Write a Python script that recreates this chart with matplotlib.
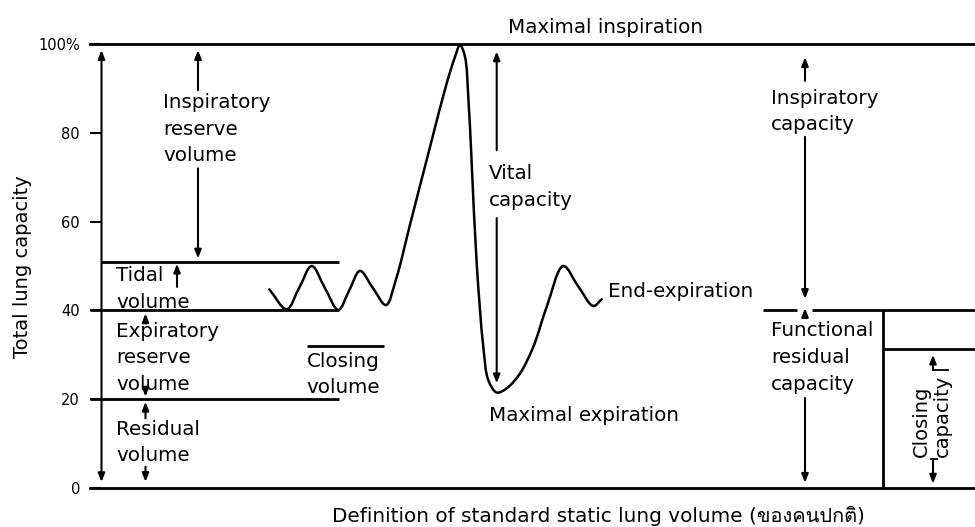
import math
import matplotlib
matplotlib.use("Agg")
import matplotlib.pyplot as plt
from matplotlib import font_manager, ft2font
from matplotlib.path import Path
from matplotlib.patches import PathPatch

# ---------------- data ----------------
y_ticks = [0, 20, 40, 60, 80, 100]
y_tick_labels = ["0", "20", "40", "60", "80", "100%"]

# lung volume levels (% of total lung capacity)
tlc = 100
end_inspiration = 50.8
frc = 40
rv = 20
closing_volume_level = 32.0
closing_capacity_level = 31.4

# spirogram trace (time position, % TLC)
trace_x = [269.3, 286.7, 299.2, 311.7, 325.0, 338.3, 349.2, 360.0, 373.0, 386.0,
           396.0, 410.0, 430.0, 446.7, 455.0, 460.0, 465.0, 468.3, 471.7, 476.7,
           483.3, 488.3, 496.7, 506.7, 520.0, 533.3, 546.7, 563.3, 578.0, 593.3,
           601.7]
trace_y = [44.75, 40.25, 45.1, 50.0, 45.0, 40.1, 44.5, 48.9, 45.0, 41.2,
           47.0, 59.3, 76.8, 91.15, 97.1, 99.8, 97.1, 88.1, 73.1, 50.6,
           31.8, 24.3, 21.5, 22.45, 25.8, 31.8, 40.8, 50.0, 45.5, 41.0,
           42.5]

x_label = "Definition of standard static lung volume (ของคนปกติ)"
y_label = "Total lung capacity"

# ---------------- fonts ----------------
thai_font = None
seen = set()
for f in font_manager.fontManager.ttflist:
    if f.fname in seen:
        continue
    seen.add(f.fname)
    try:
        cm = ft2font.FT2Font(f.fname).get_charmap()
    except Exception:
        continue
    if 0x0E02 in cm and 0x0E04 in cm and 0x0E34 in cm:
        thai_font = f.name
        break
families = ["DejaVu Sans"] + ([thai_font] if thai_font else [])
plt.rcParams["font.family"] = families

FS = 14.3

# ---------------- figure ----------------
W, H = 975, 527
fig = plt.figure(figsize=(W / 100, H / 100), dpi=100)
ax = fig.add_axes([90 / W, (H - 488) / H, 885 / W, 444 / H])
ax.set_xlim(90, 975)
ax.set_ylim(0, 100)
for s in ("left", "right"):
    ax.spines[s].set_visible(False)
for s in ("top", "bottom"):
    ax.spines[s].set_linewidth(2)
ax.set_xticks([])
ax.set_yticks(y_ticks)
ax.set_yticklabels(y_tick_labels)
ax.tick_params(axis="y", direction="in", length=7.9, width=1.5, pad=7.2,
               labelsize=10.5)


def hline(x0, x1, y):
    ax.plot([x0, x1], [y, y], color="black", lw=2, solid_capstyle="butt",
            clip_on=False)


def vline(x, y0, y1):
    ax.plot([x, x], [y0, y1], color="black", lw=2, solid_capstyle="butt",
            clip_on=False)


def arrow(x, tail, tip, both=False):
    style = "<|-|>" if both else "-|>"
    ax.annotate("", xy=(x, tip), xytext=(x, tail),
                arrowprops=dict(arrowstyle=style + ",head_length=0.5,head_width=0.2",
                                lw=1.5, color="black", shrinkA=0, shrinkB=0,
                                mutation_scale=10))


def block(x, y0, lines, dy=6.0, **kw):
    for i, s in enumerate(lines):
        ax.text(x, y0 - i * dy, s, ha="left", va="baseline", fontsize=FS, **kw)


# horizontal level lines
hline(101, 339, end_inspiration)
hline(90, 339, frc)
hline(90, 339, rv)
hline(307, 384, closing_volume_level)
hline(763, 797, frc)
hline(812, 975, frc)
hline(882.7, 975, closing_capacity_level)
vline(882.7, frc, 0)

# spirogram trace: centripetal Catmull-Rom path through the read points
SX, SY = 1.0, 4.44
P = [(x * SX, y * SY) for x, y in zip(trace_x, trace_y)]
n = len(P)


def dist(a, b):
    return max(math.hypot(b[0] - a[0], b[1] - a[1]) ** 0.5, 1e-6)


verts = [P[0]]
codes = [Path.MOVETO]
for i in range(n - 1):
    p1, p2 = P[i], P[i + 1]
    p0 = P[i - 1] if i > 0 else (2 * p1[0] - p2[0], 2 * p1[1] - p2[1])
    p3 = P[i + 2] if i + 2 < n else (2 * p2[0] - p1[0], 2 * p2[1] - p1[1])
    d01, d12, d23 = dist(p0, p1), dist(p1, p2), dist(p2, p3)
    m1 = [(p1[k] - p0[k]) / d01 - (p2[k] - p0[k]) / (d01 + d12)
          + (p2[k] - p1[k]) / d12 for k in (0, 1)]
    m2 = [(p2[k] - p1[k]) / d12 - (p3[k] - p1[k]) / (d12 + d23)
          + (p3[k] - p2[k]) / d23 for k in (0, 1)]
    c1 = (p1[0] + m1[0] * d12 / 3, p1[1] + m1[1] * d12 / 3)
    c2 = (p2[0] - m2[0] * d12 / 3, p2[1] - m2[1] * d12 / 3)
    verts += [c1, c2, p2]
    codes += [Path.CURVE4] * 3
verts = [(vx / SX, vy / SY) for vx, vy in verts]
ax.add_patch(PathPatch(Path(verts, codes), fill=False, lw=1.8,
                       edgecolor="black", capstyle="round", joinstyle="round",
                       clip_on=False))

# arrows
arrow(101.5, 1.35, 98.6, both=True)          # total lung capacity
arrow(198, 89.6, 98.6)                        # IRV up
arrow(198, 72.0, 51.7)                        # IRV down
arrow(177, 45.3, 50.5)                        # tidal up
arrow(145.5, 37.4, 39.3)                      # ERV up
arrow(145.5, 22.8, 20.6)                      # ERV down
arrow(145.5, 15.7, 19.4)                      # RV up
arrow(145.5, 4.8, 1.4)                        # RV down
arrow(496.7, 76.1, 98.3)                      # VC up
arrow(496.7, 60.8, 23.6)                      # VC down
arrow(805, 91.7, 97.0)                        # IC up
arrow(805, 79.1, 42.6)                        # IC down
arrow(805, 39.0, 40.5)                        # FRC up (tiny)
arrow(805, 20.3, 1.2)                         # FRC down
arrow(933, 26.6, 30.0)                        # closing capacity up
arrow(933, 6.3, 1.0)                          # closing capacity down
ax.plot([933, 948], [26.6, 26.6], color="black", lw=1.3, clip_on=False)
ax.plot([931, 937], [6.5, 6.5], color="black", lw=1.3, clip_on=False)

# labels
block(508, 102.5, ["Maximal inspiration"])
block(163, 85.6, ["Inspiratory", "reserve", "volume"])
block(116, 46.6, ["Tidal", "volume"], dy=6.1)
block(116, 34.1, ["Expiratory", "reserve", "volume"], dy=6.0)
block(116, 11.9, ["Residual", "volume"], dy=5.8)
block(306.7, 27.3, ["Closing", "volume"], dy=6.0)
block(489, 69.7, ["Vital", "capacity"], dy=6.1)
block(608, 43.1, ["End-expiration"])
block(489, 15.0, ["Maximal expiration"])
block(771, 86.4, ["Inspiratory", "capacity"], dy=5.8)
block(771, 34.3, ["Functional", "residual", "capacity"], dy=6.1)

ax.text(927, 6.98, "Closing", rotation=90, rotation_mode="anchor",
        ha="left", va="baseline", fontsize=14)
ax.text(948, 6.98, "capacity", rotation=90, rotation_mode="anchor",
        ha="left", va="baseline", fontsize=14)

ax.text(331.7, -7.6, x_label, ha="left", va="baseline", fontsize=14.4,
        clip_on=False)
fig.text(28.5 / W, 1 - 266.5 / H, y_label, rotation=90, rotation_mode="anchor",
         ha="center", va="baseline", fontsize=14)

fig.savefig("out.png", dpi=100)
